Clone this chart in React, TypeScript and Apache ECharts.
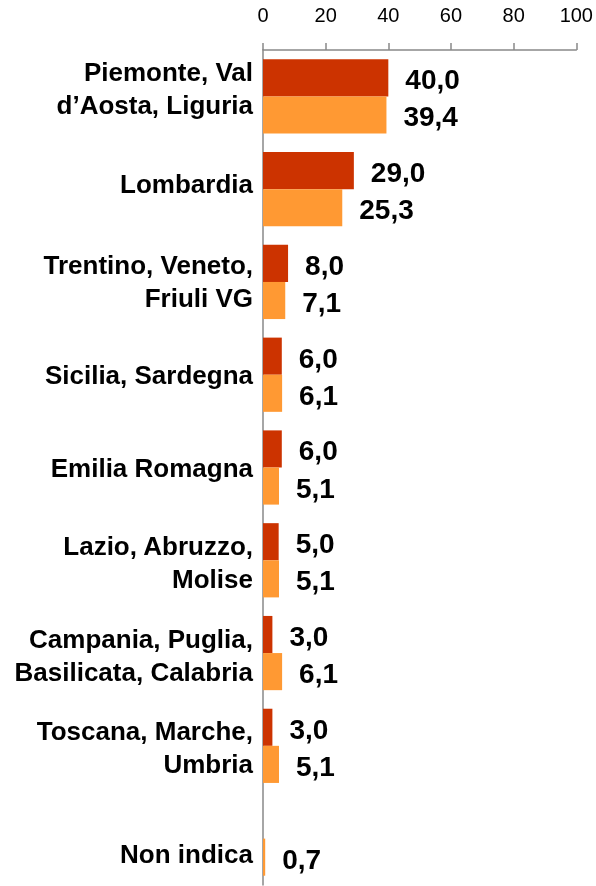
import React, { useEffect, useRef } from "react";
import * as echarts from "echarts";

const categories = [
  "Piemonte, Val\nd\u2019Aosta, Liguria",
  "Lombardia",
  "Trentino, Veneto,\nFriuli VG",
  "Sicilia, Sardegna",
  "Emilia Romagna",
  "Lazio, Abruzzo,\nMolise",
  "Campania, Puglia,\nBasilicata, Calabria",
  "Toscana, Marche,\nUmbria",
  "Non indica",
];
const seriesA = [40.0, 29.0, 8.0, 6.0, 6.0, 5.0, 3.0, 3.0, null];
const seriesB = [39.4, 25.3, 7.1, 6.1, 5.1, 5.1, 6.1, 5.1, 0.7];
const axisMin = 0;
const axisMax = 100;
const axisInterval = 20;

const FONT = "'Liberation Sans', Arial, sans-serif";
// vertical nudges (px) of the category labels, as in the reference layout
const labelShift = [-8, -5, 0, 0, 0, 2, 2, 2, 15];

export default function App() {
  const ref = useRef<HTMLDivElement>(null);
  useEffect(() => {
    if (!ref.current) return;
    const chart = echarts.init(ref.current, undefined, { renderer: "svg" });
    const fmt = (p: any) =>
      p.value == null ? "" : Number(p.value).toFixed(1).replace(".", ",");
    const label = {
      show: true,
      position: "right",
      distance: 17,
      offset: [0, 2],
      formatter: fmt,
      color: "#000",
      fontFamily: FONT,
      fontWeight: "bold",
      fontSize: 28,
    };
    const rich: Record<string, any> = {
      t: {
        color: "#000",
        fontFamily: FONT,
        fontWeight: "bold",
        fontSize: 26,
        lineHeight: 33,
        align: "right",
      },
    };
    labelShift.forEach((s) => {
      if (s !== 0) {
        const h = Math.abs(s) * 2;
        rich["s" + h] = { fontSize: 1, lineHeight: h, align: "right" };
      }
    });
    const catFormatter = (value: string, idx: number) => {
      const body = value
        .split("\n")
        .map((l) => `{t|${l}}`)
        .join("\n");
      const s = labelShift[idx] || 0;
      if (s === 0) return body;
      const sp = `{s${Math.abs(s) * 2}| }`;
      return s < 0 ? `${body}\n${sp}` : `${sp}\n${body}`;
    };
    chart.setOption({
      animation: false,
      grid: { left: 263, right: 17, top: 50, bottom: 1, containLabel: false },
      xAxis: {
        type: "value",
        position: "top",
        min: axisMin,
        max: axisMax,
        interval: axisInterval,
        splitLine: { show: false },
        axisLine: { show: true, lineStyle: { color: "#898989", width: 1.5 } },
        axisTick: { show: true, length: 7, lineStyle: { color: "#898989", width: 1.5 } },
        axisLabel: { color: "#000", fontFamily: FONT, fontSize: 20, margin: 25 },
      },
      yAxis: {
        type: "category",
        inverse: true,
        data: categories,
        axisLine: { show: true, lineStyle: { color: "#898989", width: 1.5 } },
        axisTick: { show: false },
        axisLabel: {
          formatter: catFormatter,
          rich,
          color: "#000",
          fontFamily: FONT,
          fontWeight: "bold",
          fontSize: 26,
          lineHeight: 33,
          margin: 10,
          align: "right",
        },
      },
      series: [
        {
          type: "bar",
          data: seriesA,
          itemStyle: { color: "#CC3300" },
          barGap: "0%",
          barCategoryGap: "20%",
          label,
        },
        {
          type: "bar",
          data: seriesB,
          itemStyle: { color: "#FF9933" },
          barGap: "0%",
          barCategoryGap: "20%",
          label,
        },
      ],
    });
    return () => chart.dispose();
  }, []);
  return (
    <div
      ref={ref}
      style={{ position: "fixed", left: 0, top: 0, width: 596, height: 886 }}
    />
  );
}
